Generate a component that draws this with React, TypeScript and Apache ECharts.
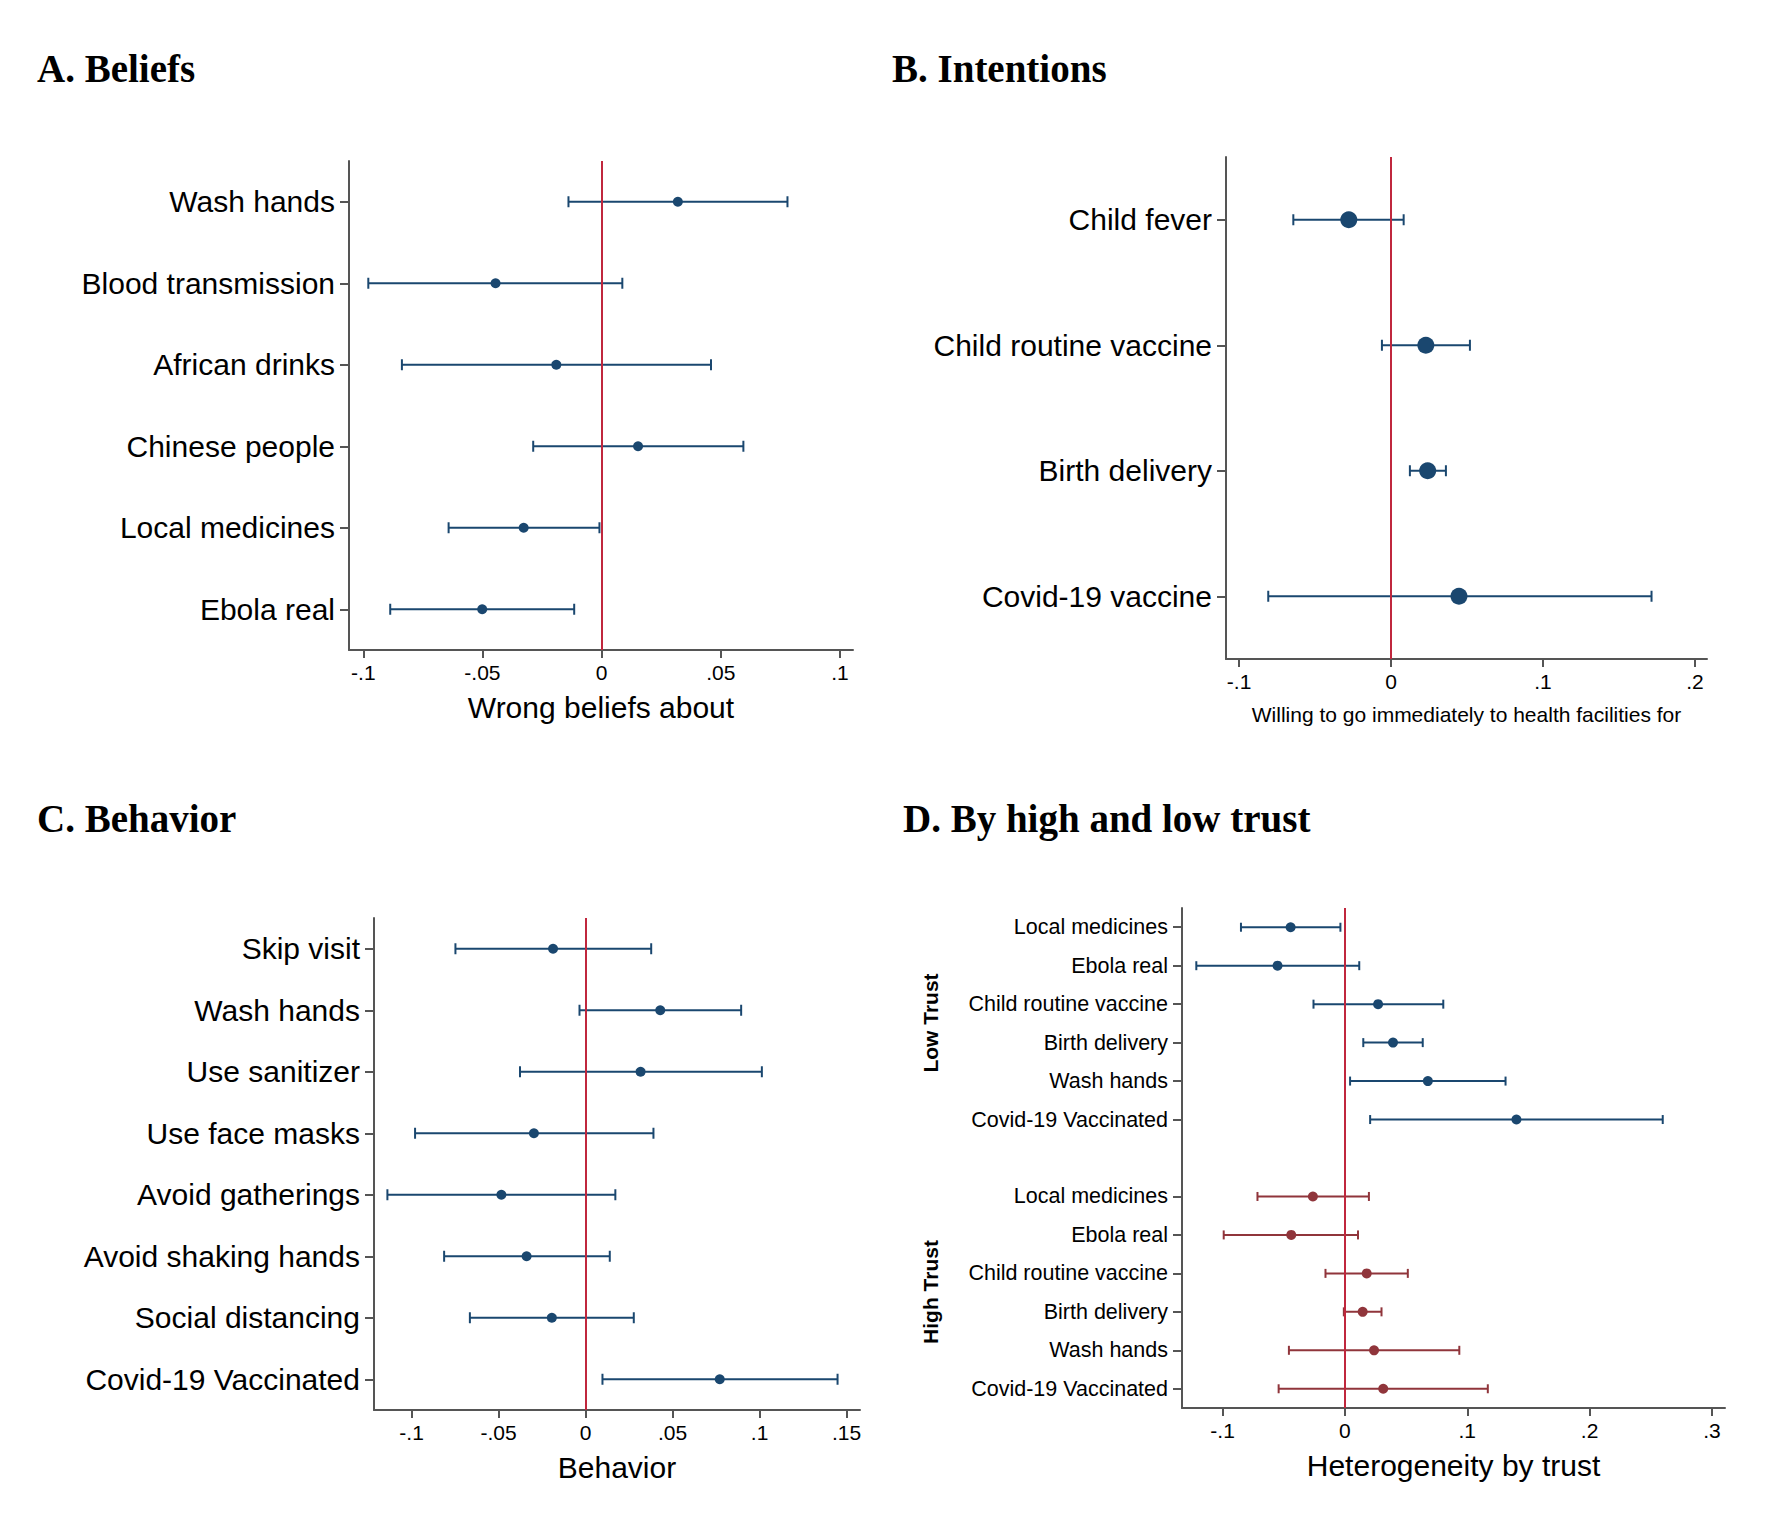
import React, { useEffect, useRef } from "react";
import * as echarts from "echarts";

// ---------- Panel A: Beliefs ----------
const beliefsCats = ["Wash hands", "Blood transmission", "African drinks", "Chinese people", "Local medicines", "Ebola real"];
const beliefsEst = [0.032, -0.0445, -0.019, 0.0153, -0.0327, -0.0501];
const beliefsLo = [-0.0139, -0.0979, -0.0838, -0.0287, -0.0642, -0.0887];
const beliefsHi = [0.078, 0.0087, 0.0459, 0.0595, -0.0009, -0.0115];
const beliefsTicks = [-0.1, -0.05, 0, 0.05, 0.1];
const beliefsTickLabels = ["-.1", "-.05", "0", ".05", ".1"];

// ---------- Panel B: Intentions ----------
const intentCats = ["Child fever", "Child routine vaccine", "Birth delivery", "Covid-19 vaccine"];
const intentEst = [-0.0278, 0.0229, 0.0241, 0.0447];
const intentLo = [-0.0643, -0.006, 0.0124, -0.0808];
const intentHi = [0.0083, 0.0519, 0.0361, 0.1714];
const intentTicks = [-0.1, 0, 0.1, 0.2];
const intentTickLabels = ["-.1", "0", ".1", ".2"];

// ---------- Panel C: Behavior ----------
const behavCats = ["Skip visit", "Wash hands", "Use sanitizer", "Use face masks", "Avoid gatherings", "Avoid shaking hands", "Social distancing", "Covid-19 Vaccinated"];
const behavEst = [-0.0187, 0.0429, 0.0316, -0.0297, -0.0484, -0.0339, -0.0194, 0.0771];
const behavLo = [-0.0748, -0.0035, -0.0377, -0.098, -0.1139, -0.0813, -0.0665, 0.0097];
const behavHi = [0.0377, 0.0894, 0.1013, 0.039, 0.0171, 0.0139, 0.0277, 0.1448];
const behavTicks = [-0.1, -0.05, 0, 0.05, 0.1, 0.15];
const behavTickLabels = ["-.1", "-.05", "0", ".05", ".1", ".15"];

// ---------- Panel D: By trust ----------
const trustItems = ["Local medicines", "Ebola real", "Child routine vaccine", "Birth delivery", "Wash hands", "Covid-19 Vaccinated"];
const trustCats = [...trustItems, "", ...trustItems];
const lowEst = [-0.0444, -0.0551, 0.0271, 0.0393, 0.0678, 0.1402];
const lowLo = [-0.085, -0.1215, -0.0257, 0.015, 0.0042, 0.0206];
const lowHi = [-0.0037, 0.0117, 0.0804, 0.0636, 0.1313, 0.2598];
const highEst = [-0.0262, -0.0439, 0.0178, 0.0145, 0.0238, 0.0313];
const highLo = [-0.0715, -0.0991, -0.0159, -0.0009, -0.0458, -0.0542];
const highHi = [0.0196, 0.0107, 0.0514, 0.0299, 0.0935, 0.1168];
const trustTicks = [-0.1, 0, 0.1, 0.2, 0.3];
const trustTickLabels = ["-.1", "0", ".1", ".2", ".3"];

const NAVY = "#1a476f";
const MAROON = "#90353b";
const ZERO_RED = "#c0273d";
const AXIS = "#555555";
const SANS = "Liberation Sans, Arial, Helvetica, sans-serif";
const SERIF = "Liberation Serif, Times New Roman, serif";

function lookup(ticks: number[], labels: string[]) {
  return (v: number) => {
    const i = ticks.findIndex((t) => Math.abs(t - v) < 1e-9);
    return i >= 0 ? labels[i] : "";
  };
}

function errBarSeries(idx: number, lo: number[], hi: number[], rows: number[], color: string, capHalf: number) {
  return {
    type: "custom",
    xAxisIndex: idx,
    yAxisIndex: idx,
    silent: true,
    encode: { x: [0, 1], y: 2 },
    data: lo.map((l, i) => [l, hi[i], rows[i]]),
    renderItem: (params: any, api: any) => {
      const y = api.value(2);
      const p1 = api.coord([api.value(0), y]);
      const p2 = api.coord([api.value(1), y]);
      const st = { stroke: color, lineWidth: 2 };
      return {
        type: "group",
        children: [
          { type: "line", shape: { x1: p1[0], y1: p1[1], x2: p2[0], y2: p2[1] }, style: st },
          { type: "line", shape: { x1: p1[0], y1: p1[1] - capHalf, x2: p1[0], y2: p1[1] + capHalf }, style: st },
          { type: "line", shape: { x1: p2[0], y1: p2[1] - capHalf, x2: p2[0], y2: p2[1] + capHalf }, style: st },
        ],
      };
    },
    z: 3,
  };
}

function pointSeries(idx: number, est: number[], rows: number[], color: string, size: number, withZero: boolean) {
  const s: any = {
    type: "scatter",
    xAxisIndex: idx,
    yAxisIndex: idx,
    silent: true,
    symbol: "circle",
    symbolSize: size,
    itemStyle: { color, opacity: 1 },
    data: est.map((e, i) => [e, rows[i]]),
    z: 5,
  };
  if (withZero) {
    s.markLine = {
      silent: true,
      symbol: ["none", "none"],
      label: { show: false },
      lineStyle: { color: ZERO_RED, width: 2, type: "solid" },
      emphasis: { disabled: true },
      data: [{ xAxis: 0 }],
      z: 4,
    };
  }
  return s;
}

function xAxisOf(idx: number, min: number, max: number, ticks: number[], labels: string[], name: string, nameSize: number) {
  return {
    type: "value",
    gridIndex: idx,
    min,
    max,
    name,
    nameLocation: "middle",
    nameGap: nameSize > 25 ? 42 : 45,
    nameTextStyle: { fontSize: nameSize, color: "#000", fontFamily: SANS },
    splitLine: { show: false },
    axisLine: { show: true, onZero: false, lineStyle: { color: AXIS, width: 2 } },
    axisTick: { show: true, length: 8, customValues: ticks, lineStyle: { color: AXIS, width: 2 } },
    axisLabel: {
      customValues: ticks,
      formatter: lookup(ticks, labels),
      fontSize: 21,
      color: "#000",
      fontFamily: SANS,
      margin: 12,
    },
  };
}

function yAxisOf(idx: number, cats: string[], fontSize: number) {
  return {
    type: "category",
    gridIndex: idx,
    data: cats,
    inverse: true,
    boundaryGap: true,
    axisLine: { show: true, onZero: false, lineStyle: { color: AXIS, width: 2 } },
    axisTick: {
      show: true,
      length: 9,
      alignWithLabel: true,
      interval: (i: number, v: string) => v !== "",
      lineStyle: { color: AXIS, width: 2 },
    },
    axisLabel: { interval: 0, fontSize, color: "#000", fontFamily: SANS, margin: 14 },
    splitLine: { show: false },
  };
}

const rowsOf = (n: number, offset = 0) => Array.from({ length: n }, (_, i) => i + offset);

export default function App() {
  const ref = useRef<HTMLDivElement>(null);
  useEffect(() => {
    if (!ref.current) return;
    const chart = echarts.init(ref.current, undefined, { renderer: "svg" });
    const option: any = {
      animation: false,
      backgroundColor: "#ffffff",
      grid: [
        { left: 349, top: 161, width: 504, height: 489, containLabel: false, outerBoundsMode: "none" },
        { left: 1226, top: 157, width: 481, height: 502, containLabel: false, outerBoundsMode: "none" },
        { left: 374, top: 918, width: 486, height: 492, containLabel: false, outerBoundsMode: "none" },
        { left: 1182, top: 908, width: 543, height: 500, containLabel: false, outerBoundsMode: "none" },
      ],
      xAxis: [
        xAxisOf(0, -0.106, 0.1055, beliefsTicks, beliefsTickLabels, "Wrong beliefs about", 30),
        xAxisOf(1, -0.1086, 0.2079, intentTicks, intentTickLabels, "Willing to go immediately to health facilities for", 21),
        xAxisOf(2, -0.1216, 0.1577, behavTicks, behavTickLabels, "Behavior", 30),
        xAxisOf(3, -0.1332, 0.3107, trustTicks, trustTickLabels, "Heterogeneity by trust", 30),
      ],
      yAxis: [
        yAxisOf(0, beliefsCats, 30),
        yAxisOf(1, intentCats, 30),
        yAxisOf(2, behavCats, 30),
        yAxisOf(3, trustCats, 21.5),
      ],
      series: [
        errBarSeries(0, beliefsLo, beliefsHi, rowsOf(6), NAVY, 5.5),
        pointSeries(0, beliefsEst, rowsOf(6), NAVY, 10, true),
        errBarSeries(1, intentLo, intentHi, rowsOf(4), NAVY, 5.5),
        pointSeries(1, intentEst, rowsOf(4), NAVY, 17, true),
        errBarSeries(2, behavLo, behavHi, rowsOf(8), NAVY, 5.5),
        pointSeries(2, behavEst, rowsOf(8), NAVY, 10, true),
        errBarSeries(3, lowLo, lowHi, rowsOf(6), NAVY, 4.5),
        pointSeries(3, lowEst, rowsOf(6), NAVY, 10, true),
        errBarSeries(3, highLo, highHi, rowsOf(6, 7), MAROON, 4.5),
        pointSeries(3, highEst, rowsOf(6, 7), MAROON, 10, false),
      ],
      graphic: [
        { type: "text", x: 37, y: 68, style: { text: "A. Beliefs", fontSize: 39, fontWeight: "bold", fontFamily: SERIF, fill: "#000", align: "left", verticalAlign: "middle" } },
        { type: "text", x: 892, y: 68, style: { text: "B. Intentions", fontSize: 39, fontWeight: "bold", fontFamily: SERIF, fill: "#000", align: "left", verticalAlign: "middle" } },
        { type: "text", x: 37, y: 818, style: { text: "C. Behavior", fontSize: 39, fontWeight: "bold", fontFamily: SERIF, fill: "#000", align: "left", verticalAlign: "middle" } },
        { type: "text", x: 903, y: 818, style: { text: "D. By high and low trust", fontSize: 39, fontWeight: "bold", fontFamily: SERIF, fill: "#000", align: "left", verticalAlign: "middle" } },
        { type: "text", x: 930, y: 1023, rotation: Math.PI / 2, style: { text: "Low Trust", fontSize: 21, fontWeight: "bold", fontFamily: SANS, fill: "#000", align: "center", verticalAlign: "middle" } },
        { type: "text", x: 930, y: 1292, rotation: Math.PI / 2, style: { text: "High Trust", fontSize: 21, fontWeight: "bold", fontFamily: SANS, fill: "#000", align: "center", verticalAlign: "middle" } },
      ],
    };
    chart.setOption(option);
    return () => chart.dispose();
  }, []);
  return (
    <div
      ref={ref}
      style={{ position: "absolute", left: 0, top: 0, width: 1776, height: 1520, background: "#fff" }}
    />
  );
}
